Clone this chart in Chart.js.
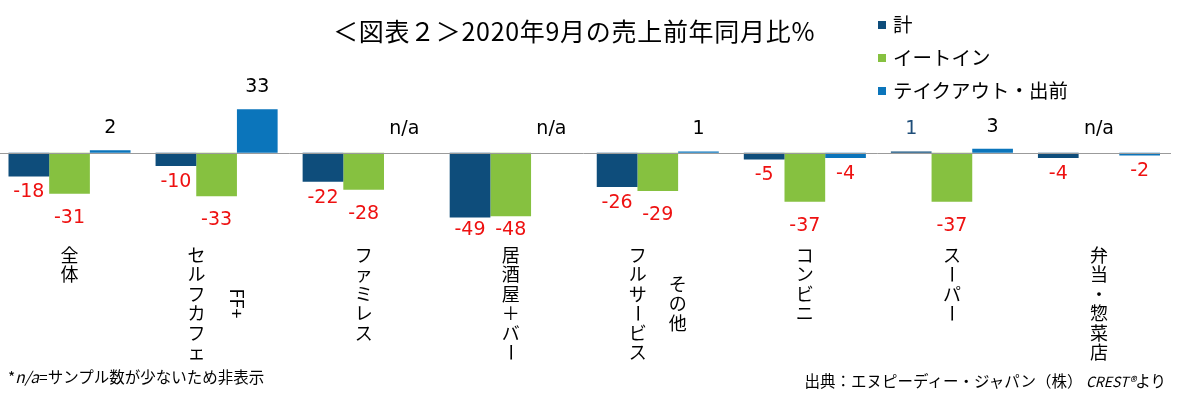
<!DOCTYPE html>
<html>
<head>
<meta charset="utf-8">
<script src="https://cdn.jsdelivr.net/npm/chart.js@4.4.1/dist/chart.umd.min.js"></script>
<style>
  body { margin: 0; background: #fff; }
  #wrap { position: relative; width: 1190px; height: 394px; overflow: hidden; font-family: "Noto Sans CJK JP", sans-serif; color: #000; }
  #myChart { position: absolute; left: -4px; top: 0; }
  #title { position: absolute; left: 333px; top: 15px; font-size: 25px; letter-spacing: 0.7px; line-height: 30px; white-space: nowrap; }
  #legend { position: absolute; left: 878px; top: 7px; font-size: 19.5px; line-height: 33px; }
  #legend div { white-space: nowrap; }
  #legend span { display: inline-block; width: 8px; height: 8px; margin-right: 7px; vertical-align: middle; position: relative; top: -2px; }
  #noteLeft { position: absolute; left: 8px; top: 366px; font-size: 15.5px; line-height: 20px; white-space: nowrap; }
  #noteRight { position: absolute; right: 24px; top: 370px; font-size: 15.5px; line-height: 20px; white-space: nowrap; }
  i.small { font-size: 14px; }
</style>
</head>
<body>
<div id="wrap">
  <canvas id="myChart" width="1180" height="394"></canvas>
  <div id="title"></div>
  <div id="legend"></div>
  <div id="noteLeft">*<i>n/a</i>=サンプル数が少ないため非表示</div>
  <div id="noteRight">出典：エヌピーディー・ジャパン（株） <i class="small">CREST®</i>より</div>
</div>
<script>
const titleText = '＜図表２＞2020年9月の売上前年同月比%';

// categorias (las que tienen dos columnas van como array)
const categories = ['全体', ['セルフカフェ', 'FF+'], 'ファミレス', '居酒屋＋バー', ['フルサービス', 'その他'], 'コンビニ', 'スーパー', '弁当・惣菜店'];
const seriesNames = ['計', 'イートイン', 'テイクアウト・出前'];
const totalValues = [-18, -10, -22, -49, -26, -5, 1, -4];
const eatInValues = [-31, -33, -28, -48, -29, -37, -37, null];
const takeoutValues = [2, 33, null, null, 1, -4, 3, -2];
const colors = ['#0E4D7B', '#86C140', '#0B75BB'];

document.querySelector('#title').textContent = titleText;

// leyenda en html
let legendHtml = '';
seriesNames.forEach((name, i) => {
  legendHtml += `<div><span style="background:${colors[i]}"></span>${name}</div>`;
});
document.querySelector('#legend').innerHTML = legendHtml;

// dibuja un texto vertical (tategaki), las letras ascii giradas
function verticalTokens(text) {
  let tokens = [];
  let run = '';
  for (const ch of text) {
    if (ch.charCodeAt(0) < 128) {
      run += ch;
    } else {
      if (run) { tokens.push({ t: run, rot: true }); run = ''; }
      tokens.push({ t: ch, rot: ch === 'ー' });
    }
  }
  if (run) tokens.push({ t: run, rot: true });
  return tokens;
}

function tokenHeight(ctx, tok, pitch) {
  if (tok.rot && tok.t !== 'ー') return ctx.measureText(tok.t).width + 4;
  return pitch;
}

function drawColumn(ctx, text, cx, top, pitch) {
  let y = top;
  verticalTokens(text).forEach(tok => {
    const h = tokenHeight(ctx, tok, pitch);
    if (tok.rot) {
      ctx.save();
      ctx.translate(cx, y + h / 2);
      ctx.rotate(Math.PI / 2);
      ctx.fillText(tok.t, 0, 0);
      ctx.restore();
    } else {
      ctx.fillText(tok.t, cx, y + h / 2);
    }
    y += h;
  });
}

function columnHeight(ctx, text, pitch) {
  let h = 0;
  verticalTokens(text).forEach(tok => { h += tokenHeight(ctx, tok, pitch); });
  return h;
}

const categoryLabels = {
  id: 'categoryLabels',
  afterDraw(chart) {
    const ctx = chart.ctx;
    const xScale = chart.scales.x;
    const pitch = 19.5;
    ctx.save();
    ctx.font = '18px "Noto Sans CJK JP"';
    ctx.fillStyle = '#000';
    ctx.textAlign = 'center';
    ctx.textBaseline = 'middle';
    categories.forEach((cat, i) => {
      const cols = Array.isArray(cat) ? cat : [cat];
      const cx = xScale.getPixelForValue(i);
      const heights = cols.map(c => columnHeight(ctx, c, pitch));
      const maxH = Math.max(...heights);
      cols.forEach((c, k) => {
        const x = cols.length === 1 ? cx : cx + (k === 0 ? -20 : 20);
        drawColumn(ctx, c, x, 245 + (maxH - heights[k]) / 2, pitch);
      });
    });
    ctx.restore();
  }
};

// linea del cero y etiquetas de valores
const valueLabels = {
  id: 'valueLabels',
  afterDatasetsDraw(chart) {
    const ctx = chart.ctx;
    const area = chart.chartArea;
    const zeroY = Math.round(chart.scales.y.getPixelForValue(0)) + 0.5;
    ctx.save();
    ctx.strokeStyle = '#9b9b9b';
    ctx.lineWidth = 1;
    ctx.beginPath();
    ctx.moveTo(area.left, zeroY);
    ctx.lineTo(area.right - 1.5, zeroY);
    ctx.stroke();

    ctx.font = '19px "DejaVu Sans"';
    ctx.textAlign = 'center';
    ctx.textBaseline = 'middle';
    chart.data.datasets.forEach((ds, di) => {
      const meta = chart.getDatasetMeta(di);
      meta.data.forEach((bar, i) => {
        const v = ds.data[i];
        if (v === null) {
          ctx.fillStyle = '#000';
          ctx.fillText('n/a', bar.x, zeroY - 24);
        } else if (v < 0) {
          ctx.fillStyle = '#EE1111';
          // que no pise las etiquetas de categoria
          ctx.fillText(String(v), bar.x, Math.min(bar.y + ds.labelGap, 230));
        } else {
          ctx.fillStyle = ds.plusColor;
          ctx.fillText(String(v), bar.x, bar.y - 22);
        }
      });
    });
    ctx.restore();
  }
};

const valueSeries = [totalValues, eatInValues, takeoutValues];
const labelGaps = [16, 24, 16];
const plusColors = ['#1F4E79', '#000', '#000'];

const ctx = document.getElementById('myChart').getContext('2d');
const myChart = new Chart(ctx, {
  type: 'bar',
  data: {
    labels: categories,
    datasets: seriesNames.map((name, i) => ({
      label: name,
      data: valueSeries[i],
      backgroundColor: colors[i],
      borderWidth: 0,
      categoryPercentage: 0.83,
      barPercentage: 1.0,
      labelGap: labelGaps[i],
      plusColor: plusColors[i],
    })),
  },
  options: {
    responsive: false,
    maintainAspectRatio: false,
    animation: false,
    layout: {
      padding: { top: 100, bottom: 162, left: 0, right: 3.5 },
    },
    plugins: {
      legend: { display: false },
      title: { display: false },
      tooltip: { enabled: false },
    },
    scales: {
      x: { display: false },
      y: { display: false, min: -60, max: 40 },
    },
  },
  plugins: [valueLabels, categoryLabels],
});
</script>
</body>
</html>
